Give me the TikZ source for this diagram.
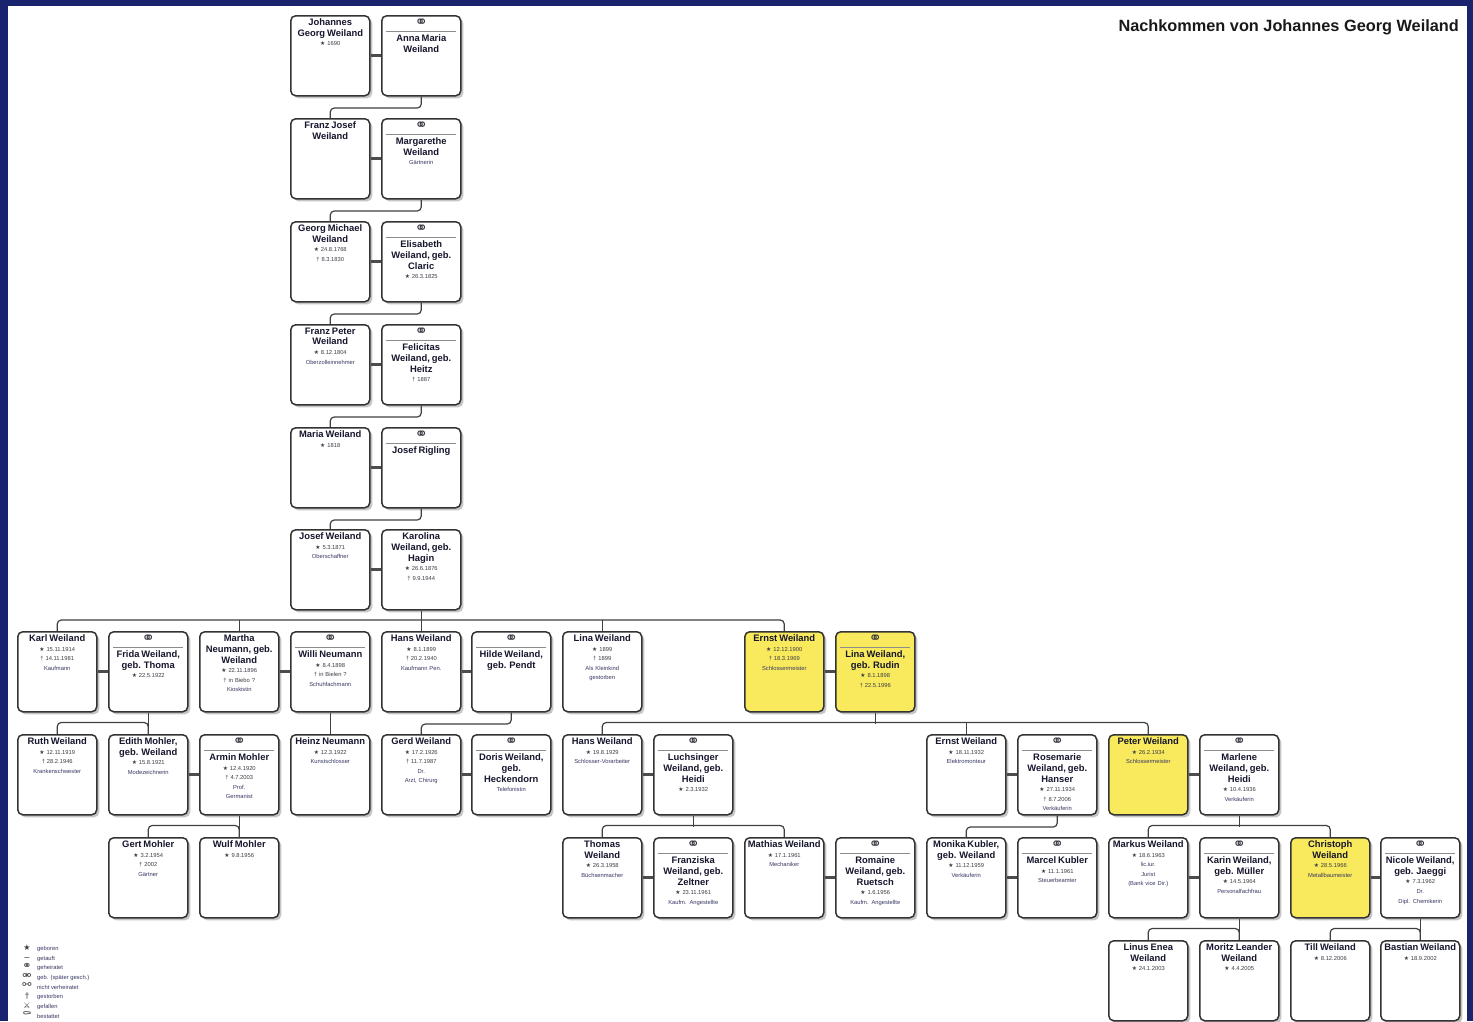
\documentclass[tikz,border=0pt]{standalone}
\usepackage{fontspec}
\setmainfont{Liberation Sans}
\newfontfamily\symf{DejaVu Sans}
\usetikzlibrary{shadows,calc}
\definecolor{navy}{RGB}{26,35,110}
\definecolor{hl}{RGB}{248,234,92}
\definecolor{namec}{RGB}{22,22,45}
\definecolor{datec}{RGB}{60,60,70}
\definecolor{occc}{RGB}{55,55,100}
\definecolor{rulec}{RGB}{140,140,140}
\newcommand{\pnm}[1]{{\fontsize{9.4}{10.8}\selectfont\bfseries\color{namec}#1\par}}
\newcommand{\psm}[1]{{\fontsize{5.8}{9.6}\selectfont\color{datec}#1\par}}
\newcommand{\poc}[1]{{\fontsize{5.8}{9.6}\selectfont\color{occc}#1\par}}
\newcommand{\pmar}{{\fontsize{16}{9}\selectfont\symf\color{datec}⚭\par}{\fontsize{5}{5}\selectfont\color{rulec}\rule{70pt}{1.6pt}\par}\vspace{-1.5pt}}
\newcommand{\bsym}{{\symf ★}}
\newcommand{\dsym}{†}
\tikzset{
  pbox/.style={rectangle, rounded corners=5pt, draw=black!80, line width=1.5pt, fill=white,
    minimum width=79pt, minimum height=80pt, inner sep=0pt,
    drop shadow={shadow xshift=2.5pt, shadow yshift=-2.5pt, fill=black!45, opacity=0.5}},
  ybox/.style={pbox, fill=hl},
  ptext/.style={anchor=north, text width=77pt, align=center, inner sep=0pt, font=\fontsize{5.8}{9.6}\selectfont},
  conn/.style={draw=black!75, line width=1.2pt, rounded corners=4pt},
  couple/.style={draw=black!70, line width=2.8pt},
  lgs/.style={font=\symf\fontsize{8}{8}\selectfont, text=datec, inner sep=0pt, text height=3.5pt, text depth=0.5pt},
  lgsb/.style={lgs, font=\symf\fontsize{11}{8}\selectfont},
  lgt/.style={font=\fontsize{5.8}{6}\selectfont, text=occc, inner sep=0pt, anchor=west}
}
\newcommand{\personbox}[5]{\node[#4, anchor=north west] (#1) at (#2,#3) {};
  \node[ptext] (#1t) at ([yshift=-3.5pt]#1.north) {#5};}
\begin{document}
\begin{tikzpicture}[x=1pt,y=-1pt]
\useasboundingbox (0,0) rectangle (1473,1021);
\fill[navy] (0,0) rectangle (1473,1021);
\fill[white] (8,6) rectangle (1467,1021);

\node[anchor=base east, font=\fontsize{16.3}{16}\selectfont\bfseries, text=black!90, inner sep=0pt] (title) at (1459,31) {Nachkommen von Johannes Georg Weiland};

% ---- ancestor chain
\personbox{jg}{290}{15}{pbox}{\pnm{Johannes\\Georg Weiland}\psm{\bsym\ 1690}}
\personbox{am}{381}{15}{pbox}{\pmar\pnm{Anna Maria\\Weiland}}
\personbox{fj}{290}{118}{pbox}{\pnm{Franz Josef\\Weiland}}
\personbox{mg}{381}{118}{pbox}{\pmar\pnm{Margarethe\\Weiland}\poc{Gärtnerin}}
\personbox{gm}{290}{221}{pbox}{\pnm{Georg Michael\\Weiland}\psm{\bsym\ 24.8.1768\\\dsym\ 8.3.1830}}
\personbox{el}{381}{221}{pbox}{\pmar\pnm{Elisabeth\\Weiland, geb.\\Claric}\psm{\bsym\ 26.3.1825}}
\personbox{fp}{290}{324}{pbox}{\pnm{Franz Peter\\Weiland}\psm{\bsym\ 8.12.1804}\poc{Oberzolleinnehmer}}
\personbox{fe}{381}{324}{pbox}{\pmar\pnm{Felicitas\\Weiland, geb.\\Heitz}\psm{\dsym\ 1887}}
\personbox{mw}{290}{427}{pbox}{\pnm{Maria Weiland}\psm{\bsym\ 1818}}
\personbox{jr}{381}{427}{pbox}{\pmar\pnm{Josef Rigling}}
\personbox{jw}{290}{529}{pbox}{\pnm{Josef Weiland}\psm{\bsym\ 5.3.1871}\poc{Oberschaffner}}
\personbox{ka}{381}{529}{pbox}{\pnm{Karolina\\Weiland, geb.\\Hagin}\psm{\bsym\ 26.6.1876\\\dsym\ 9.9.1944}}

% ---- row 1
\personbox{karl}{17}{631}{pbox}{\pnm{Karl Weiland}\psm{\bsym\ 15.11.1914\\\dsym\ 14.11.1981}\poc{Kaufmann}}
\personbox{frida}{108}{631}{pbox}{\pmar\pnm{Frida Weiland,\\geb. Thoma}\psm{\bsym\ 22.5.1922}}
\personbox{martha}{199}{631}{pbox}{\pnm{Martha\\Neumann, geb.\\Weiland}\psm{\bsym\ 22.11.1896\\\dsym\ in Biebo ?}\poc{Kioskistin}}
\personbox{willi}{290}{631}{pbox}{\pmar\pnm{Willi Neumann}\psm{\bsym\ 8.4.1898\\\dsym\ in Bielen ?}\poc{Schuhfachmann}}
\personbox{hans}{381}{631}{pbox}{\pnm{Hans Weiland}\psm{\bsym\ 8.1.1899\\\dsym\ 20.2.1940}\poc{Kaufmann Pen.}}
\personbox{hilde}{471}{631}{pbox}{\pmar\pnm{Hilde Weiland,\\geb. Pendt}}
\personbox{lina}{562}{631}{pbox}{\pnm{Lina Weiland}\psm{\bsym\ 1899\\\dsym\ 1899}\poc{Als Kleinkind\\gestorben}}
\personbox{ernst}{744}{631}{ybox}{\pnm{Ernst Weiland}\psm{\bsym\ 12.12.1900\\\dsym\ 18.3.1969}\poc{Schlossermeister}}
\personbox{linar}{835}{631}{ybox}{\pmar\pnm{Lina Weiland,\\geb. Rudin}\psm{\bsym\ 8.1.1898\\\dsym\ 22.5.1996}}

% ---- row 2
\personbox{ruth}{17}{734}{pbox}{\pnm{Ruth Weiland}\psm{\bsym\ 12.11.1919\\\dsym\ 28.2.1946}\poc{Krankenschwester}}
\personbox{edith}{108}{734}{pbox}{\pnm{Edith Mohler,\\geb. Weiland}\psm{\bsym\ 15.8.1921}\poc{Modezeichnerin}}
\personbox{armin}{199}{734}{pbox}{\pmar\pnm{Armin Mohler}\psm{\bsym\ 12.4.1920\\\dsym\ 4.7.2003}\poc{Prof.\\Germanist}}
\personbox{heinz}{290}{734}{pbox}{\pnm{Heinz Neumann}\psm{\bsym\ 12.3.1922}\poc{Kunstschlosser}}
\personbox{gerd}{381}{734}{pbox}{\pnm{Gerd Weiland}\psm{\bsym\ 17.2.1926\\\dsym\ 11.7.1987}\poc{Dr.\\Arzt, Chirurg}}
\personbox{doris}{471}{734}{pbox}{\pmar\pnm{Doris Weiland,\\geb.\\Heckendorn}\poc{Telefonistin}}
\personbox{hanss}{562}{734}{pbox}{\pnm{Hans Weiland}\psm{\bsym\ 19.8.1929}\poc{Schlosser-Vorarbeiter}}
\personbox{luch}{653}{734}{pbox}{\pmar\pnm{Luchsinger\\Weiland, geb.\\Heidi}\psm{\bsym\ 2.3.1932}}
\personbox{ernstt}{926}{734}{pbox}{\pnm{Ernst Weiland}\psm{\bsym\ 18.11.1932}\poc{Elektromonteur}}
\personbox{rose}{1017}{734}{pbox}{\pmar\pnm{Rosemarie\\Weiland, geb.\\Hanser}\psm{\bsym\ 27.11.1934\\\dsym\ 8.7.2006}\poc{Verkäuferin}}
\personbox{peter}{1108}{734}{ybox}{\pnm{Peter Weiland}\psm{\bsym\ 26.2.1934}\poc{Schlossermeister}}
\personbox{marlene}{1199}{734}{pbox}{\pmar\pnm{Marlene\\Weiland, geb.\\Heidi}\psm{\bsym\ 10.4.1936}\poc{Verkäuferin}}

% ---- row 3
\personbox{gert}{108}{837}{pbox}{\pnm{Gert Mohler}\psm{\bsym\ 3.2.1954\\\dsym\ 2002}\poc{Gärtner}}
\personbox{wulf}{199}{837}{pbox}{\pnm{Wulf Mohler}\psm{\bsym\ 9.8.1956}}
\personbox{thomas}{562}{837}{pbox}{\pnm{Thomas\\Weiland}\psm{\bsym\ 26.3.1958}\poc{Büchsenmacher}}
\personbox{franz}{653}{837}{pbox}{\pmar\pnm{Franziska\\Weiland, geb.\\Zeltner}\psm{\bsym\ 23.11.1961}\poc{Kaufm. Angestellte}}
\personbox{mathias}{744}{837}{pbox}{\pnm{Mathias Weiland}\psm{\bsym\ 17.1.1961}\poc{Mechaniker}}
\personbox{romaine}{835}{837}{pbox}{\pmar\pnm{Romaine\\Weiland, geb.\\Ruetsch}\psm{\bsym\ 1.6.1956}\poc{Kaufm. Angestellte}}
\personbox{monika}{926}{837}{pbox}{\pnm{Monika Kubler,\\geb. Weiland}\psm{\bsym\ 11.12.1959}\poc{Verkäuferin}}
\personbox{marcel}{1017}{837}{pbox}{\pmar\pnm{Marcel Kubler}\psm{\bsym\ 11.1.1961}\poc{Steuerbeamter}}
\personbox{markus}{1108}{837}{pbox}{\pnm{Markus Weiland}\psm{\bsym\ 18.6.1963}\poc{lic.iur.\\Jurist\\(Bank vice Dir.)}}
\personbox{karin}{1199}{837}{pbox}{\pmar\pnm{Karin Weiland,\\geb. Müller}\psm{\bsym\ 14.5.1964}\poc{Personalfachfrau}}
\personbox{christoph}{1290}{837}{ybox}{\pnm{Christoph\\Weiland}\psm{\bsym\ 28.5.1966}\poc{Metallbaumeister}}
\personbox{nicole}{1380}{837}{pbox}{\pmar\pnm{Nicole Weiland,\\geb. Jaeggi}\psm{\bsym\ 7.3.1962}\poc{Dr.\\Dipl. Chemikerin}}

% ---- row 4
\personbox{linus}{1108}{940}{pbox}{\pnm{Linus Enea\\Weiland}\psm{\bsym\ 24.1.2003}}
\personbox{moritz}{1199}{940}{pbox}{\pnm{Moritz Leander\\Weiland}\psm{\bsym\ 4.4.2005}}
\personbox{till}{1290}{940}{pbox}{\pnm{Till Weiland}\psm{\bsym\ 8.12.2006}}
\personbox{bastian}{1380}{940}{pbox}{\pnm{Bastian Weiland}\psm{\bsym\ 18.9.2002}}

% ---- couple bars
\foreach \a/\b in {jg/am, fj/mg, gm/el, fp/fe, mw/jr, jw/ka, karl/frida, martha/willi, hans/hilde, ernst/linar,
  edith/armin, gerd/doris, hanss/luch, ernstt/rose, peter/marlene,
  thomas/franz, mathias/romaine, monika/marcel, markus/karin, christoph/nicole}
  \draw[couple] (\a.east) -- (\b.west);

% ---- descent lines, ancestor chain
\draw[conn] (am.south) -- ++(0,11.5) -| (fj.north);
\draw[conn] (mg.south) -- ++(0,11.5) -| (gm.north);
\draw[conn] (el.south) -- ++(0,11.5) -| (fp.north);
\draw[conn] (fe.south) -- ++(0,11.5) -| (mw.north);
\draw[conn] (jr.south) -- ++(0,11.5) -| (jw.north);

% ---- row 1
\draw[conn] (karl.north) -- ++(0,-11) -| (ernst.north);
\draw[conn] (ka.south) -- (hans.north);
\draw[conn] (martha.north) -- ++(0,-11);
\draw[conn] (lina.north) -- ++(0,-11);

% ---- row 2
\draw[conn] (frida.south) -- (edith.north);
\draw[conn] (ruth.north) -- ++(0,-11.5) -| (edith.north);
\draw[conn] (willi.south) -- (heinz.north);
\draw[conn] (hilde.south) -- ++(0,11.5) -| (gerd.north);
\draw[conn] (hanss.north) -- ++(0,-11.5) -| (peter.north);
\draw[conn] (ernstt.north) -- ++(0,-11.5);
\draw[conn] (linar.south) -- ++(0,11.5);

% ---- row 3
\draw[conn] (gert.north) -- ++(0,-11.5) -| (wulf.north);
\draw[conn] (armin.south) -- (wulf.north);
\draw[conn] (thomas.north) -- ++(0,-11.5) -| (mathias.north);
\draw[conn] (luch.south) -- ++(0,11.5);
\draw[conn] (rose.south) -- ++(0,11.5) -| (monika.north);
\draw[conn] (markus.north) -- ++(0,-11.5) -| (christoph.north);
\draw[conn] (marlene.south) -- ++(0,11.5);

% ---- row 4
\draw[conn] (linus.north) -- ++(0,-11.5) -| (moritz.north);
\draw[conn] (karin.south) -- (moritz.north);
\draw[conn] (till.north) -- ++(0,-11.5) -| (bastian.north);
\draw[conn] (nicole.south) -- (bastian.north);

% ---- legend
\node[lgs] (lg1s) at (27,949) {★};      \node[lgt] (lg1t) at (37,949) {geboren};
\node[lgs] (lg2s) at (27,958.6) {∼};    \node[lgt] (lg2t) at (37,958.6) {getauft};
\node[lgsb] (lg3s) at (27,968.2) {⚭};   \node[lgt] (lg3t) at (37,968.2) {geheiratet};
\node[lgsb] (lg4s) at (27,977.8) {⚮};   \node[lgt] (lg4t) at (37,977.8) {geb. (später gesch.)};
\node[lgsb] (lg5s) at (27,987.4) {⚯};   \node[lgt] (lg5t) at (37,987.4) {nicht verheiratet};
\node[lgs] (lg6s) at (27,997) {†};      \node[lgt] (lg6t) at (37,997) {gestorben};
\node[lgs] (lg7s) at (27,1006.6) {⚔};   \node[lgt] (lg7t) at (37,1006.6) {gefallen};
\node[lgsb] (lg8s) at (27,1016.2) {⚰};  \node[lgt] (lg8t) at (37,1016.2) {bestattet};
\end{tikzpicture}
\end{document}
